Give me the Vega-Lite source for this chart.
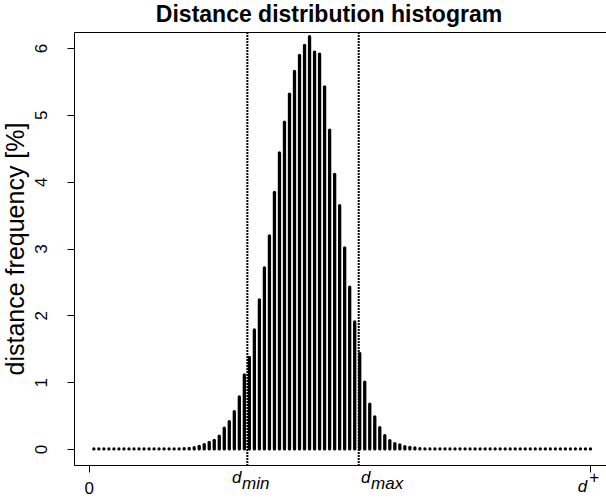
{
  "$schema": "https://vega.github.io/schema/vega-lite/v6.json",
  "width": 532,
  "height": 433,
  "autosize": {"type": "none"},
  "padding": {"left": 74, "top": 32, "right": 0, "bottom": 33},
  "background": "white",
  "config": {
    "view": {"stroke": null},
    "font": "Liberation Sans",
    "axis": {"domainColor": "black", "tickColor": "black", "labelColor": "black", "titleColor": "black", "grid": false, "domainWidth": 1, "tickWidth": 1}
  },
  "title": {"text": "Distance distribution histogram", "font": "Liberation Sans", "fontSize": 23, "fontWeight": "bold", "color": "black", "baseline": "alphabetic", "offset": 10, "anchor": "middle", "dx": -11, "dy": 24},
  "datasets": {
    "hist": [
      {"i": 1, "v": 0}, {"i": 2, "v": 0}, {"i": 3, "v": 0}, {"i": 4, "v": 0}, {"i": 5, "v": 0},
      {"i": 6, "v": 0}, {"i": 7, "v": 0}, {"i": 8, "v": 0}, {"i": 9, "v": 0}, {"i": 10, "v": 0},
      {"i": 11, "v": 0}, {"i": 12, "v": 0}, {"i": 13, "v": 0}, {"i": 14, "v": 0}, {"i": 15, "v": 0},
      {"i": 16, "v": 0}, {"i": 17, "v": 0}, {"i": 18, "v": 0}, {"i": 19, "v": 0.005}, {"i": 20, "v": 0.01},
      {"i": 21, "v": 0.02}, {"i": 22, "v": 0.04}, {"i": 23, "v": 0.065}, {"i": 24, "v": 0.1}, {"i": 25, "v": 0.13},
      {"i": 26, "v": 0.19}, {"i": 27, "v": 0.31}, {"i": 28, "v": 0.41}, {"i": 29, "v": 0.56}, {"i": 30, "v": 0.78},
      {"i": 31, "v": 1.11}, {"i": 32, "v": 1.37}, {"i": 33, "v": 1.78}, {"i": 34, "v": 2.23}, {"i": 35, "v": 2.71},
      {"i": 36, "v": 3.19}, {"i": 37, "v": 3.84}, {"i": 38, "v": 4.43}, {"i": 39, "v": 4.89}, {"i": 40, "v": 5.31},
      {"i": 41, "v": 5.65}, {"i": 42, "v": 5.89}, {"i": 43, "v": 6.04}, {"i": 44, "v": 6.17}, {"i": 45, "v": 5.94},
      {"i": 46, "v": 5.91}, {"i": 47, "v": 5.42}, {"i": 48, "v": 4.77}, {"i": 49, "v": 4.11}, {"i": 50, "v": 3.64},
      {"i": 51, "v": 3.01}, {"i": 52, "v": 2.42}, {"i": 53, "v": 1.9}, {"i": 54, "v": 1.43}, {"i": 55, "v": 1.0},
      {"i": 56, "v": 0.67}, {"i": 57, "v": 0.48}, {"i": 58, "v": 0.32}, {"i": 59, "v": 0.2}, {"i": 60, "v": 0.125},
      {"i": 61, "v": 0.08}, {"i": 62, "v": 0.06}, {"i": 63, "v": 0.035}, {"i": 64, "v": 0.025}, {"i": 65, "v": 0.015},
      {"i": 66, "v": 0.005}, {"i": 67, "v": 0}, {"i": 68, "v": 0}, {"i": 69, "v": 0}, {"i": 70, "v": 0},
      {"i": 71, "v": 0}, {"i": 72, "v": 0}, {"i": 73, "v": 0}, {"i": 74, "v": 0}, {"i": 75, "v": 0},
      {"i": 76, "v": 0}, {"i": 77, "v": 0}, {"i": 78, "v": 0}, {"i": 79, "v": 0}, {"i": 80, "v": 0},
      {"i": 81, "v": 0}, {"i": 82, "v": 0}, {"i": 83, "v": 0}, {"i": 84, "v": 0}, {"i": 85, "v": 0},
      {"i": 86, "v": 0}, {"i": 87, "v": 0}, {"i": 88, "v": 0}, {"i": 89, "v": 0}, {"i": 90, "v": 0},
      {"i": 91, "v": 0}, {"i": 92, "v": 0}, {"i": 93, "v": 0}, {"i": 94, "v": 0}, {"i": 95, "v": 0},
      {"i": 96, "v": 0}, {"i": 97, "v": 0}, {"i": 98, "v": 0}, {"i": 99, "v": 0}, {"i": 100, "v": 0}
    ],
    "lines": [
      {"name": "dmin", "x": 31.6},
      {"name": "dmax", "x": 53.8}
    ],
    "xlabels": [
      {"t": "d", "x": 28.54, "kind": "base"},
      {"t": "min", "x": 30.53, "kind": "sub"},
      {"t": "d", "x": 54.26, "kind": "base"},
      {"t": "max", "x": 56.26, "kind": "sub"},
      {"t": "d", "x": 97.45, "kind": "base2"},
      {"t": "+", "x": 99.75, "kind": "sup"}
    ]
  },
  "layer": [
    {
      "data": {"name": "hist"},
      "mark": {"type": "rule", "strokeWidth": 3.3, "strokeCap": "round", "color": "black"},
      "encoding": {
        "x": {
          "field": "i", "type": "quantitative",
          "scale": {"domain": [-2.96, 103.1], "nice": false, "zero": false},
          "axis": {
            "orient": "bottom", "values": [0, 100], "tickSize": 7,
            "labelExpr": "datum.value == 0 ? '0' : ''",
            "labelFontSize": 17, "labelFont": "Liberation Sans",
            "labelBaseline": "alphabetic", "labelPadding": 21.5, "title": null
          }
        },
        "y": {
          "field": "v", "type": "quantitative",
          "scale": {"domain": [-0.24, 6.24], "nice": false, "zero": false},
          "axis": {
            "values": [0, 1, 2, 3, 4, 5, 6], "tickSize": 7,
            "labelAngle": 270, "labelAlign": "center", "labelBaseline": "alphabetic",
            "labelPadding": 20.5, "labelFontSize": 17, "labelFont": "Liberation Sans",
            "title": "distance frequency [%]", "titleFont": "Liberation Sans", "titleFontSize": 25,
            "titleFontWeight": "normal", "titleAngle": 270, "titleX": -51, "titleY": 216.5,
            "titleAlign": "center", "titleBaseline": "alphabetic"
          }
        },
        "y2": {"datum": 0}
      }
    },
    {
      "data": {"name": "lines"},
      "mark": {"type": "rule", "strokeDash": [2, 1], "strokeWidth": 2, "color": "black"},
      "encoding": {
        "x": {
          "field": "x", "type": "quantitative",
          "axis": {"orient": "top", "labels": false, "ticks": false, "title": null, "domainColor": "black"}
        }
      }
    },
    {
      "data": {"name": "xlabels"},
      "transform": [{"filter": "datum.kind == 'base'"}],
      "mark": {"type": "text", "font": "Liberation Sans", "fontStyle": "italic", "fontSize": 17, "align": "left", "baseline": "alphabetic", "dy": 18, "color": "black"},
      "encoding": {
        "x": {"field": "x", "type": "quantitative", "axis": null},
        "y": {"value": "height"},
        "text": {"field": "t"}
      }
    },
    {
      "data": {"name": "xlabels"},
      "transform": [{"filter": "datum.kind == 'sub'"}],
      "mark": {"type": "text", "font": "Liberation Sans", "fontStyle": "italic", "fontSize": 17, "align": "left", "baseline": "alphabetic", "dy": 23.5, "color": "black"},
      "encoding": {
        "x": {"field": "x", "type": "quantitative", "axis": null},
        "y": {"value": "height"},
        "text": {"field": "t"}
      }
    },
    {
      "data": {"name": "xlabels"},
      "transform": [{"filter": "datum.kind == 'base2'"}],
      "mark": {"type": "text", "font": "Liberation Sans", "fontStyle": "italic", "fontSize": 17, "align": "left", "baseline": "alphabetic", "dy": 26.5, "color": "black"},
      "encoding": {
        "x": {"field": "x", "type": "quantitative", "axis": null},
        "y": {"value": "height"},
        "text": {"field": "t"}
      }
    },
    {
      "data": {"name": "xlabels"},
      "transform": [{"filter": "datum.kind == 'sup'"}],
      "mark": {"type": "text", "font": "Liberation Sans", "fontSize": 17, "align": "left", "baseline": "alphabetic", "dy": 18, "color": "black"},
      "encoding": {
        "x": {"field": "x", "type": "quantitative", "axis": null},
        "y": {"value": "height"},
        "text": {"field": "t"}
      }
    }
  ],
  "resolve": {"axis": {"x": "independent"}}
}
